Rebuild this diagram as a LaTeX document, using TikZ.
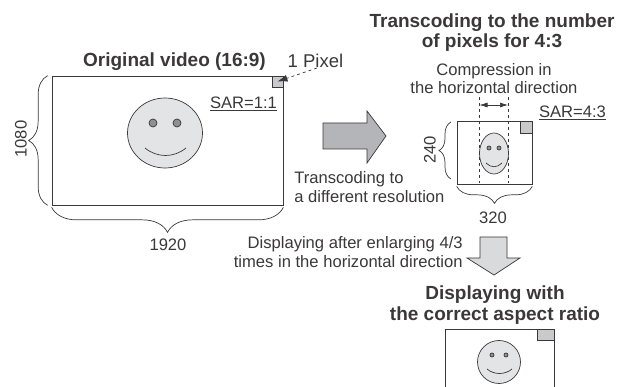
\documentclass[tikz,border=0pt]{standalone}
\usepackage{fontspec}
\setmainfont{Liberation Sans}
\usepackage{tikz}
\usetikzlibrary{shapes.geometric,decorations.pathreplacing,arrows.meta}
\definecolor{inkgray}{HTML}{3A3839}
\definecolor{facegray}{HTML}{E3E4E5}
\definecolor{pixgray}{HTML}{C9CACC}
\definecolor{eyegray}{HTML}{8F9092}
\definecolor{bigarrow}{HTML}{B4B5B8}
\definecolor{downarrow}{HTML}{D9DADB}

\begin{document}
\begin{tikzpicture}[x=1pt,y=-1pt,color=inkgray,line width=0.7pt]
        \tikzstyle{frame} = [draw, rectangle, inner sep=0pt]
        \tikzstyle{pix} = [draw, rectangle, inner sep=0pt, fill=pixgray]
        \tikzstyle{face} = [draw, ellipse, inner sep=0pt, fill=facegray]
        \tikzstyle{eye} = [draw, circle, inner sep=0pt, fill=eyegray]
        \tikzstyle{lbl} = [inner sep=0pt, align=center, font=\fontsize{16.6}{18.5}\selectfont, text=inkgray]
        \tikzstyle{title} = [inner sep=0pt, align=center, font=\fontsize{19}{20.5}\selectfont\bfseries, text=inkgray]
        \tikzstyle{brc} = [decorate, decoration={brace, amplitude=#1}]
        \clip (0,0) rectangle (630,387);

        % original video
        \node (orig) [frame, minimum width=231pt, minimum height=129pt] at (167.5,140.5) {};
        \node (origpix) [pix, minimum width=11pt, minimum height=11pt, anchor=north east] at (orig.north east) {};
        \node (origface) [face, minimum width=75pt, minimum height=70pt] at (165,133) {};
        \node (origeyel) [eye, minimum size=8pt] at (153,123) {};
        \node (origeyer) [eye, minimum size=8pt] at (177,123) {};
        \draw (145,148) .. controls (157,158) and (174,158) .. (186,148);
        \node (origtitle) [title] at (174.5,61.5) {Original video (16:9)};
        \node (onepixel) [lbl, font=\fontsize{18.5}{20}\selectfont] at (315.5,60.5) {1 Pixel};
        \node (origsar) [lbl, anchor=base] at (243.5,109) {\underline{SAR=1:1}};
        \node (h1080) [lbl, rotate=90] at (21,139) {1080};
        \node (w1920) [lbl] at (168,245) {1920};
        \draw[brc=19pt] ([xshift=-4pt]orig.south west) -- ([xshift=-4pt]orig.north west);
        \draw[brc=25pt] ([yshift=-2pt]orig.south east) -- ([yshift=-2pt]orig.south west);
        \draw[-{Latex[length=10pt,width=7pt]}, dashed] (317,68) -- (origpix.center);

        % transcoding arrow
        \draw[fill=bigarrow] (323,123) -- (367,123) -- (367,111) -- (386,136) -- (367,163) -- (367,149) -- (323,149) -- cycle;
        \node (transtext) [lbl, align=left, anchor=north west] at (294,171.5) {Transcoding to\\a different resolution};

        % 4:3 pixels
        \node (comp) [frame, minimum width=75pt, minimum height=63pt] at (494.5,152.5) {};
        \node (comppix) [pix, minimum width=12pt, minimum height=12pt, anchor=north east] at (comp.north east) {};
        \node (compface) [face, minimum width=29pt, minimum height=41pt] at (494,153.5) {};
        \node (compeyel) [eye, minimum size=4pt] at (489,148) {};
        \node (compeyer) [eye, minimum size=4pt] at (499,148) {};
        \draw (486,163) .. controls (491,168) and (497,168) .. (502,163);
        \node (comptitle) [title] at (492,32.5) {Transcoding to the number\\of pixels for 4:3};
        \node (comptext) [lbl] at (494,78.5) {Compression in\\the horizontal direction};
        \node (compsar) [lbl, anchor=base] at (572.5,118) {\underline{SAR=4:3}};
        \node (h240) [lbl, rotate=90] at (430,150) {240};
        \node (w320) [lbl] at (493,217.5) {320};
        \coordinate (dashla) at (479.5,97);
        \coordinate (dashlb) at (479.5,183);
        \coordinate (dashra) at (508,97);
        \coordinate (dashrb) at (508,183);
        \coordinate (squeezel) at (479.5,105);
        \coordinate (squeezer) at (508,105);
        \draw[dashed] (dashla) -- (dashlb);
        \draw[dashed] (dashra) -- (dashrb);
        \draw[{Latex[length=8pt,width=5pt]}-{Latex[length=8pt,width=5pt]}] (squeezel) -- (squeezer);
        \draw[brc=12pt] (451,179) -- (451,122);
        \draw[brc=17pt] ([yshift=-2pt]comp.south east) -- ([yshift=-2pt]comp.south west);

        % enlarging arrow
        \draw[fill=downarrow] (480,237) -- (507,237) -- (507,258) -- (520,258) -- (494,275) -- (467,258) -- (480,258) -- cycle;
        \node (enlargetext) [lbl, align=right, anchor=north east] at (463,236.5) {Displaying after enlarging 4/3\\times in the horizontal direction};

        % correct aspect ratio
        \node (disp) [frame, minimum width=109pt, minimum height=80pt, anchor=north west] at (445,329) {};
        \node (disppix) [pix, minimum width=17pt, minimum height=11pt, anchor=north east] at (disp.north east) {};
        \node (dispface) [face, minimum width=43pt, minimum height=43pt] at (499,362) {};
        \node (dispeyel) [eye, minimum size=4pt] at (492,355) {};
        \node (dispeyer) [eye, minimum size=4pt] at (506,355) {};
        \draw (487,369) .. controls (494,375) and (505,375) .. (512,369);
        \node (disptitle) [title] at (495,305) {Displaying with\\the correct aspect ratio};
    \end{tikzpicture}
\end{document}
